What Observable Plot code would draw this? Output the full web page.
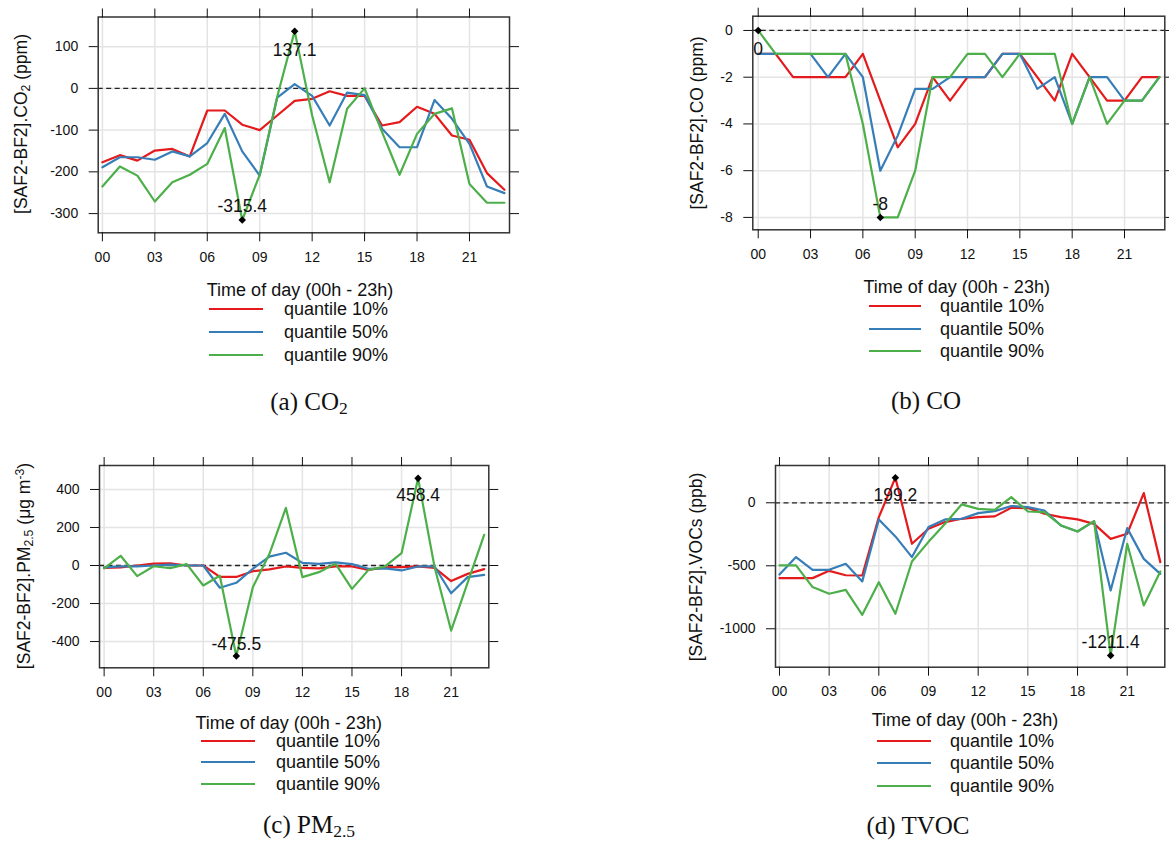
<!DOCTYPE html>
<html><head><meta charset="utf-8">
<script src="https://cdn.jsdelivr.net/npm/d3@7"></script>
<script src="https://cdn.jsdelivr.net/npm/@observablehq/plot@0.6"></script>
<style>
body{margin:0;background:#fff;}
#root{position:relative;width:1169px;height:843px;overflow:hidden;background:#fff;font-family:"Liberation Sans",Arial,sans-serif;color:#111;}
#root svg{position:absolute;overflow:visible;}
.ytitle{position:absolute;white-space:nowrap;transform:translate(-50%,-50%) rotate(-90deg);font-size:17.5px;line-height:1;}
.ltitle{position:absolute;white-space:nowrap;transform:translate(-50%,-50%);font-size:18px;line-height:1;}
.lline{position:absolute;height:2px;}
.llab{position:absolute;white-space:nowrap;transform:translateY(-50%);font-size:18px;line-height:1;}
.cap{position:absolute;white-space:nowrap;transform:translate(-50%,-50%);font-family:"Liberation Serif","Times New Roman",serif;font-size:25px;line-height:1.1;}
sub{font-size:70%;line-height:0;vertical-align:-0.22em;}
sup{font-size:70%;line-height:0;vertical-align:0.5em;}
</style></head><body><div id="root"></div>
<script>
// ---- data ----
const hours = [0,1,2,3,4,5,6,7,8,9,10,11,12,13,14,15,16,17,18,19,20,21,22,23];
const hourTicks = [0,3,6,9,12,15,18,21];
const hourTickLabels = ["00","03","06","09","12","15","18","21"];
const quantiles = ["quantile 10%","quantile 50%","quantile 90%"];
const colors = ["#e41a1c","#377eb8","#4daf4a"];

const co2_q10 = [-177,-160,-173,-149,-145,-163,-53,-53,-87,-100,-65,-30,-25,-7,-18,-18,-89,-81,-44,-61,-113,-123,-203,-243];
const co2_q50 = [-189,-165,-165,-171,-151,-163,-131,-61,-151,-209,-22,10,-18,-89,-10,-16,-97,-141,-141,-28,-73,-133,-235,-251];
const co2_q90 = [-235,-187,-209,-271,-225,-207,-181,-95,-315.4,-207,-20,137.1,-65,-225,-49,0,-105,-207,-109,-61,-48,-229,-274,-274];

const co_q10 = [-1,-1,-2,-2,-2,-2,-1,-3,-5,-4,-2,-3,-2,-2,-1,-1,-2,-3,-1,-2,-3,-3,-2,-2];
const co_q50 = [-1,-1,-1,-1,-2,-1,-2,-6,-4.5,-2.5,-2.5,-2,-2,-2,-1,-1,-2.5,-2,-4,-2,-2,-3,-3,-2];
const co_q90 = [0,-1,-1,-1,-1,-1,-4,-8,-8,-6,-2,-2,-1,-1,-2,-1,-1,-1,-4,-2,-4,-3,-3,-2];

const pm_q10 = [-12,-10,0,10,12,0,0,-60,-60,-30,-20,-5,-12,-15,-5,-5,-23,-10,-8,-5,-12,-82,-44,-19];
const pm_q50 = [-10,-5,-5,0,5,0,0,-117,-91,-17,47,67,14,9,16,7,-17,-15,-26,-5,-5,-146,-61,-49];
const pm_q90 = [-15,51,-56,-4,-14,7,-105,-54,-475.5,-114,60,303,-61,-35,10,-123,-23,-5,65,458.4,-9,-342,-90,161];

const voc_q10 = [-598,-598,-598,-540,-575,-577,-114,199.2,-325,-206,-153,-127,-114,-108,-40,-42,-87,-114,-132,-167,-286,-246,77,-471];
const voc_q50 = [-569,-431,-532,-532,-484,-624,-132,-267,-431,-193,-132,-127,-82,-66,-26,-34,-61,-180,-228,-146,-696,-201,-445,-564];
const voc_q90 = [-497,-497,-669,-722,-691,-889,-630,-881,-466,-310,-167,-13,-48,-56,45,-69,-74,-180,-228,-146,-1211.4,-325,-815,-545];

const co2_yTicks = [-300,-200,-100,0,100];
const co_yTicks = [-8,-6,-4,-2,0];
const pm_yTicks = [-400,-200,0,200,400];
const voc_yTicks = [-1000,-500,0];

// ---- layout ----
const panels = [
  {series:[co2_q10,co2_q50,co2_q90], yTicks:co2_yTicks, left:0, top:0, w:545, h:270,
   ml:97.7, mr:36, mt:16.5, mb:37.7, xd:[-0.24,23.29], yd:[-346,171], dyMax:19, dyMin:-14,
   ytitle:"[SAF2-BF2].CO<sub>2</sub> (ppm)", yt:[22,124],
   lt:[300,289.5], ll:[209,263], ly:[309.3,331.7,355], lx:284,
   cap:"(a) CO<sub>2</sub>", cp:[309,402]},
  {series:[co_q10,co_q50,co_q90], yTicks:co_yTicks, left:660, top:0, w:509, h:270,
   ml:92.3, mr:4.7, mt:15.7, mb:40.7, xd:[-0.31,23.31], yd:[-8.53,0.61], dyMax:19, dyMin:-13,
   ytitle:"[SAF2-BF2].CO (ppm)", yt:[697.5,123],
   lt:[956.7,286.7], ll:[869,921], ly:[306,329.3,351], lx:940,
   cap:"(b) CO", cp:[926,401]},
  {series:[pm_q10,pm_q50,pm_q90], yTicks:pm_yTicks, left:0, top:440, w:545, h:270,
   ml:99, mr:56.7, mt:25, mb:42.7, xd:[-0.28,23.28], yd:[-538,526], dyMax:17, dyMin:-12,
   ytitle:"[SAF2-BF2].PM<sub>2.5</sub> (&mu;g m<sup>-3</sup>)", yt:[25,566],
   lt:[288.7,723], ll:[201,255], ly:[741,761.7,784], lx:276,
   cap:"(c) PM<sub>2.5</sub>", cp:[309,825]},
  {series:[voc_q10,voc_q50,voc_q90], yTicks:voc_yTicks, left:660, top:440, w:509, h:270,
   ml:115, mr:4.7, mt:25, mb:43.3, xd:[-0.24,23.27], yd:[-1305,296], dyMax:17.5, dyMin:-13,
   ytitle:"[SAF2-BF2].VOCs (ppb)", yt:[697,567],
   lt:[965,720], ll:[877,931], ly:[741,763,786], lx:950,
   cap:"(d) TVOC", cp:[918,826]}
];

const root = document.getElementById("root");
const fmtHour = d => hourTickLabels[hourTicks.indexOf(d)];

for (const p of panels) {
  const data = [];
  quantiles.forEach((q, i) => p.series[i].forEach((v, j) => data.push({hour: hours[j], value: v, q})));
  const maxPt = d3.greatest(data, d => d.value);
  const minPt = d3.least(data, d => d.value);
  const svg = Plot.plot({
    width: p.w, height: p.h,
    marginLeft: p.ml, marginRight: p.mr, marginTop: p.mt, marginBottom: p.mb,
    x: {domain: p.xd},
    y: {domain: p.yd},
    color: {domain: quantiles, range: colors},
    style: {fontFamily: "Liberation Sans, Arial, sans-serif", fontSize: "14px", color: "#111", background: "transparent", overflow: "visible"},
    marks: [
      Plot.gridX(hourTicks, {stroke: "#e4e4e4", strokeOpacity: 1, strokeWidth: 1.5}),
      Plot.gridY(p.yTicks, {stroke: "#e4e4e4", strokeOpacity: 1, strokeWidth: 1.5}),
      Plot.ruleY([0], {stroke: "#222", strokeDasharray: "5,3.5", strokeWidth: 1.3}),
      Plot.line(data, {x: "hour", y: "value", stroke: "q", strokeWidth: 2.2}),
      Plot.dot([maxPt, minPt], {x: "hour", y: "value", symbol: "diamond2", r: 3.4, fill: "#000", stroke: "none"}),
      Plot.text([maxPt], {x: "hour", y: "value", text: d => String(d.value), dy: p.dyMax, fontSize: 17.5, fill: "#111"}),
      Plot.text([minPt], {x: "hour", y: "value", text: d => String(d.value), dy: p.dyMin, fontSize: 17.5, fill: "#111"}),
      Plot.frame({stroke: "#333", strokeWidth: 1.5}),
      Plot.axisX(hourTicks, {anchor: "bottom", tickFormat: fmtHour, tickSize: 9, tickPadding: 10, fontSize: 14, label: null}),
      Plot.axisX(hourTicks, {anchor: "top", tickFormat: () => "", tickSize: 9, label: null}),
      Plot.axisY(p.yTicks, {anchor: "left", tickFormat: d => String(d), tickSize: 9, tickPadding: 11, fontSize: 14, label: null}),
      Plot.axisY(p.yTicks, {anchor: "right", tickFormat: () => "", tickSize: 9, label: null})
    ]
  });
  svg.style.left = p.left + "px";
  svg.style.top = p.top + "px";
  root.appendChild(svg);

  const add = (cls, html, css) => {
    const el = document.createElement("div");
    el.className = cls;
    el.innerHTML = html;
    Object.assign(el.style, css);
    root.appendChild(el);
    return el;
  };
  add("ytitle", p.ytitle, {left: p.yt[0] + "px", top: p.yt[1] + "px"});
  add("ltitle", "Time of day (00h - 23h)", {left: p.lt[0] + "px", top: p.lt[1] + "px"});
  quantiles.forEach((q, i) => {
    add("lline", "", {left: p.ll[0] + "px", width: (p.ll[1] - p.ll[0]) + "px", top: (p.ly[i] - 1) + "px", background: colors[i]});
    add("llab", q, {left: p.lx + "px", top: p.ly[i] + "px"});
  });
  add("cap", p.cap, {left: p.cp[0] + "px", top: p.cp[1] + "px"});
}
</script></body></html>
